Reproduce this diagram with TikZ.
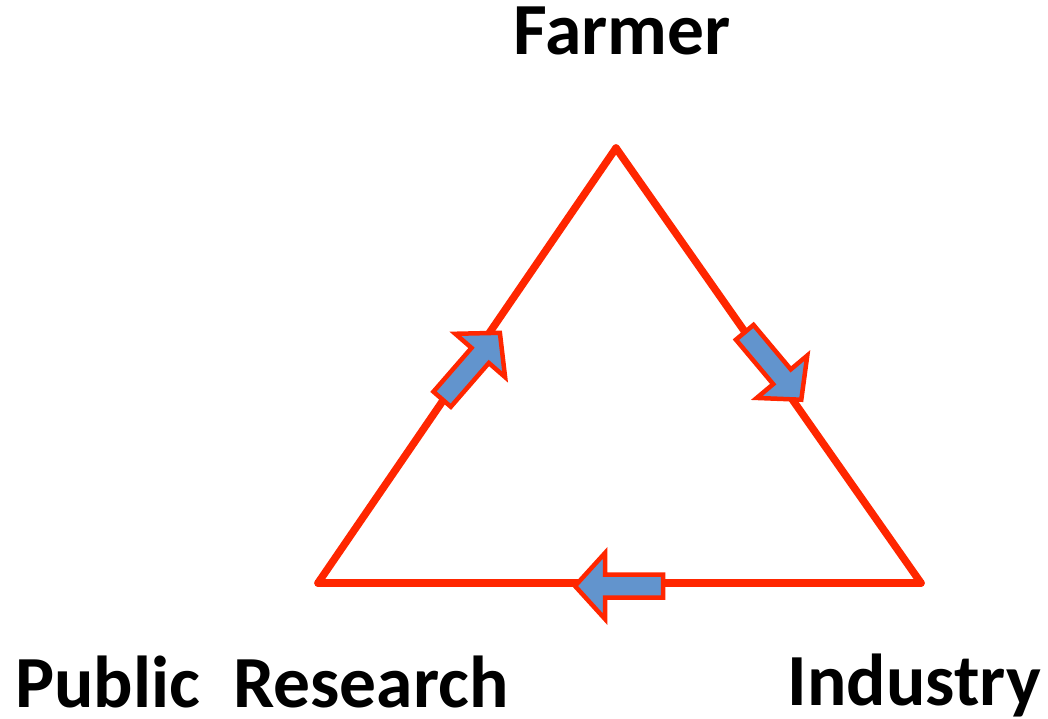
\documentclass[tikz,border=0pt]{standalone}
\usepackage{fontspec}
\setmainfont{Carlito}
\definecolor{trired}{RGB}{255,38,0}
\definecolor{arrblue}{RGB}{98,148,205}
\begin{document}
\begin{tikzpicture}[x=1pt,y=-1pt,
  edge/.style={draw=trired,line width=7.5pt,line join=round,line cap=round},
  blockarr/.style={draw=trired,fill=arrblue,line width=4.5pt,line join=miter},
  lbl/.style={font=\bfseries\fontsize{73.5}{76}\selectfont,inner sep=0pt,anchor=base}]
\useasboundingbox (0,0) rectangle (1048,718);
\coordinate (F) at (616,148);
\coordinate (P) at (318,583);
\coordinate (I) at (921,583);
\draw[edge] (P) -- (F);
\draw[edge] (F) -- (I);
\draw[edge] (I) -- (P);
\newcommand{\blockarrow}[3]{%
  \begin{scope}[shift={(#1,#2)},rotate=#3,y=1pt]
    \draw[blockarr] (-44,-11.5) -- (14,-11.5) -- (14,-33) -- (44,0) -- (14,33) -- (14,11.5) -- (-44,11.5) -- cycle;
  \end{scope}}
\blockarrow{471}{366}{49}
\blockarrow{773}{366}{-50}
\blockarrow{619}{586}{180}
\node[lbl] (farmer) at (622,54) {Farmer};
\node[lbl,anchor=base west] (public) at (15,707) {Public\ \ Research};
\node[lbl,anchor=base east] (industry) at (1041,705) {Industry};
\end{tikzpicture}
\end{document}
